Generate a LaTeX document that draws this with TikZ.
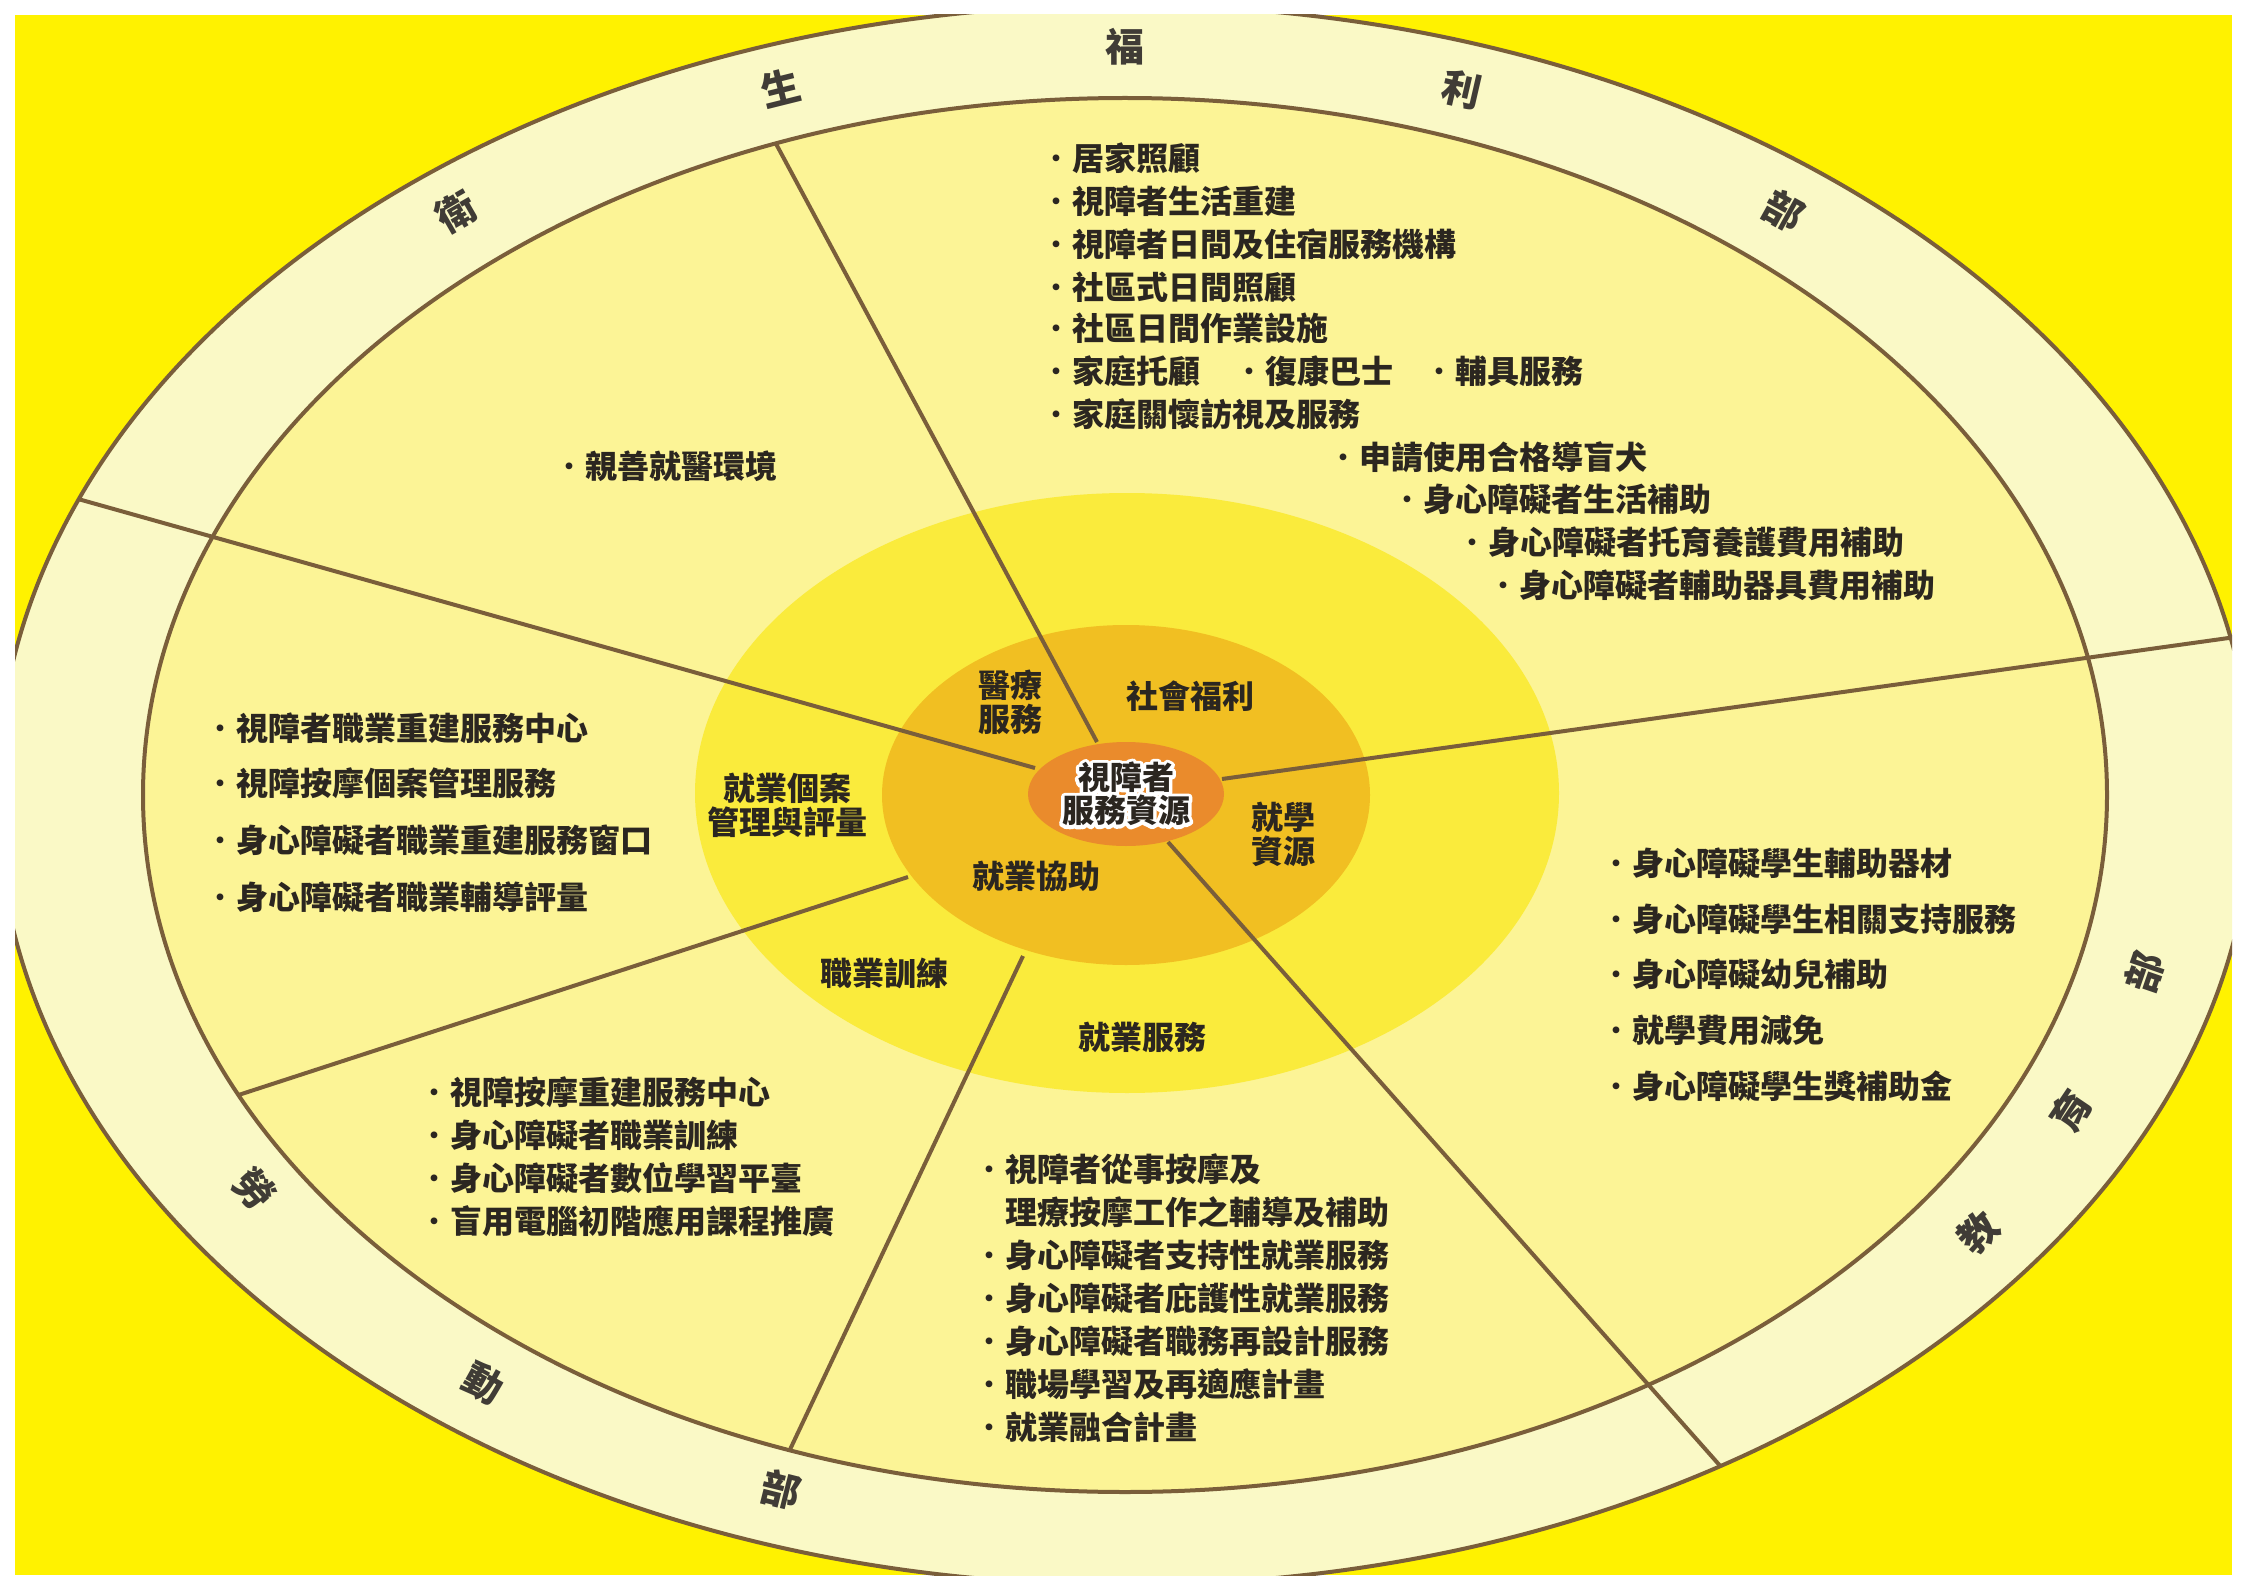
\documentclass[tikz,border=0pt]{standalone}
\usepackage{fontspec}
\setmainfont{Noto Sans CJK TC}
\usetikzlibrary{shapes.geometric}

\definecolor{bgyellow}{RGB}{255,242,0}
\definecolor{ringcream}{RGB}{250,249,198}
\definecolor{fieldyellow}{RGB}{252,244,150}
\definecolor{midyellow}{RGB}{250,235,60}
\definecolor{coregold}{RGB}{241,191,34}
\definecolor{huborange}{RGB}{234,139,44}
\definecolor{spoke}{RGB}{122,94,58}
\definecolor{ink}{RGB}{43,38,32}

\newcommand\itemdot{\textmd{・}}
\newcommand\halotext[1]{\rlap{\special{pdf:literal direct 1 1 1 RG 7 w 1 j 1 Tr}#1\special{pdf:literal direct 0 Tr}}#1}

\begin{document}
\begin{tikzpicture}[x=1pt, y=-1pt,
    itemtext/.style={anchor=west, inner sep=0pt, text=ink, font=\fontsize{32}{36}\selectfont\bfseries},
    item/.style={itemtext, execute at begin node=\itemdot},
    area/.style={inner sep=0pt, align=center, text=ink, font=\fontsize{32}{34}\selectfont\bfseries},
    dept/.style={inner sep=0pt, text=ink!90, font=\fontsize{39}{39}\selectfont\bfseries},
    spokeline/.style={draw=spoke, line width=4pt}]
            \useasboundingbox (0,0) rectangle (2247,1589);
            \fill[white] (0,0) rectangle (2247,1589);
            \fill[bgyellow] (15,15) rectangle (2232,1575);

            % Rings
            \begin{scope}
              \clip (15,15) rectangle (2232,1575);
              \fill[ringcream] (1125,795) ellipse [x radius=1128, y radius=790];
            \end{scope}
            \fill[fieldyellow] (1125,795) ellipse [x radius=982, y radius=697];
            \fill[midyellow] (1127,793) ellipse [x radius=432, y radius=300];
            \fill[coregold] (1126,795) ellipse [x radius=244, y radius=170];

            % Spokes inside the field
            \begin{scope}
              \clip (1125,795) ellipse [x radius=982, y radius=697];
              \draw[spokeline] (1097,742) -- (745,86);
              \draw[spokeline] (1023,956) -- (769,1494);
              \draw[spokeline] (908,877) -- (174,1116);
            \end{scope}

            % Spokes across the ring
            \begin{scope}
              \clip (15,15) rectangle (2232,1575);
              \clip (1125,795) ellipse [x radius=1128, y radius=790];
              \draw[spokeline] (1035,768) -- (-50,463);
              \draw[spokeline] (1222,779) -- (2300,628);
              \draw[spokeline] (1168,842) -- (1830,1590);
            \end{scope}

            % Ring borders
            \begin{scope}
              \clip (15,15) rectangle (2232,1575);
              \draw[spokeline] (1125,795) ellipse [x radius=1128, y radius=790];
            \end{scope}
            \draw[spokeline] (1125,795) ellipse [x radius=982, y radius=697];

            % Ministries
            \node[dept, rotate=30] (wei) at (456,212) {衛};
            \node[dept, rotate=14] (sheng) at (781,88) {生};
            \node[dept] (fu) at (1125,47) {福};
            \node[dept, rotate=-13] (li) at (1462,89) {利};
            \node[dept, rotate=-29] (bu1) at (1784,211) {部};
            \node[dept, rotate=71] (bu2) at (2145,972) {部};
            \node[dept, rotate=56] (yu) at (2071,1111) {育};
            \node[dept, rotate=44] (jiao) at (1978,1232) {教};
            \node[dept, rotate=-48] (lao) at (255,1189) {勞};
            \node[dept, rotate=-29] (dong) at (484,1383) {動};
            \node[dept, rotate=-14] (bu3) at (781,1490) {部};

            % Welfare items
            \node[item] (w1) at (1040,158) {居家照顧};
            \node[item] (w2) at (1040,201) {視障者生活重建};
            \node[item] (w3) at (1040,244) {視障者日間及住宿服務機構};
            \node[item] (w4) at (1040,287) {社區式日間照顧};
            \node[item] (w5) at (1040,328) {社區日間作業設施};
            \node[item] (w6) at (1040,371) {家庭托顧};
            \node[item] (w6b) at (1233,371) {復康巴士};
            \node[item] (w6c) at (1423,371) {輔具服務};
            \node[item] (w7) at (1040,414) {家庭關懷訪視及服務};
            \node[item] (w8) at (1327,457) {申請使用合格導盲犬};
            \node[item] (w9) at (1391,499) {身心障礙者生活補助};
            \node[item] (w10) at (1456,542) {身心障礙者托育養護費用補助};
            \node[item] (w11) at (1487,585) {身心障礙者輔助器具費用補助};

            % Health item
            \node[item] (h1) at (553,466) {親善就醫環境};

            % Labour items
            \node[item] (l1) at (204,728) {視障者職業重建服務中心};
            \node[item] (l2) at (204,783) {視障按摩個案管理服務};
            \node[item] (l3) at (204,840) {身心障礙者職業重建服務窗口};
            \node[item] (l4) at (204,897) {身心障礙者職業輔導評量};

            \node[item] (t1) at (418,1092) {視障按摩重建服務中心};
            \node[item] (t2) at (418,1135) {身心障礙者職業訓練};
            \node[item] (t3) at (418,1178) {身心障礙者數位學習平臺};
            \node[item] (t4) at (418,1221) {盲用電腦初階應用課程推廣};

            \node[item] (e1) at (973,1169) {視障者從事按摩及};
            \node[itemtext] (e1b) at (1005,1212) {理療按摩工作之輔導及補助};
            \node[item] (e2) at (973,1255) {身心障礙者支持性就業服務};
            \node[item] (e3) at (973,1298) {身心障礙者庇護性就業服務};
            \node[item] (e4) at (973,1341) {身心障礙者職務再設計服務};
            \node[item] (e5) at (973,1384) {職場學習及再適應計畫};
            \node[item] (e6) at (973,1427) {就業融合計畫};

            % Education items
            \node[item] (s1) at (1600,863) {身心障礙學生輔助器材};
            \node[item] (s2) at (1600,919) {身心障礙學生相關支持服務};
            \node[item] (s3) at (1600,974) {身心障礙幼兒補助};
            \node[item] (s4) at (1600,1030) {就學費用減免};
            \node[item] (s5) at (1600,1086) {身心障礙學生獎補助金};

            % Areas
            \node[area] (med) at (1010,702) {醫療\\服務};
            \node[area] (soc) at (1190,696) {社會福利};
            \node[area] (edu) at (1283,834) {就學\\資源};
            \node[area] (aid) at (1036,876) {就業協助};
            \node[area] (case) at (787,805) {就業個案\\管理與評量};
            \node[area] (train) at (884,973) {職業訓練};
            \node[area] (job) at (1142,1037) {就業服務};

            % Hub
            \node[ellipse, fill=huborange, minimum width=196pt, minimum height=104pt, inner sep=0pt] (hub) at (1126,794) {};
            \node[area, font=\fontsize{32}{33}\selectfont\bfseries] (hubtext) at (hub) {\halotext{視障者}\\\halotext{服務資源}};
          \end{tikzpicture}
\end{document}
